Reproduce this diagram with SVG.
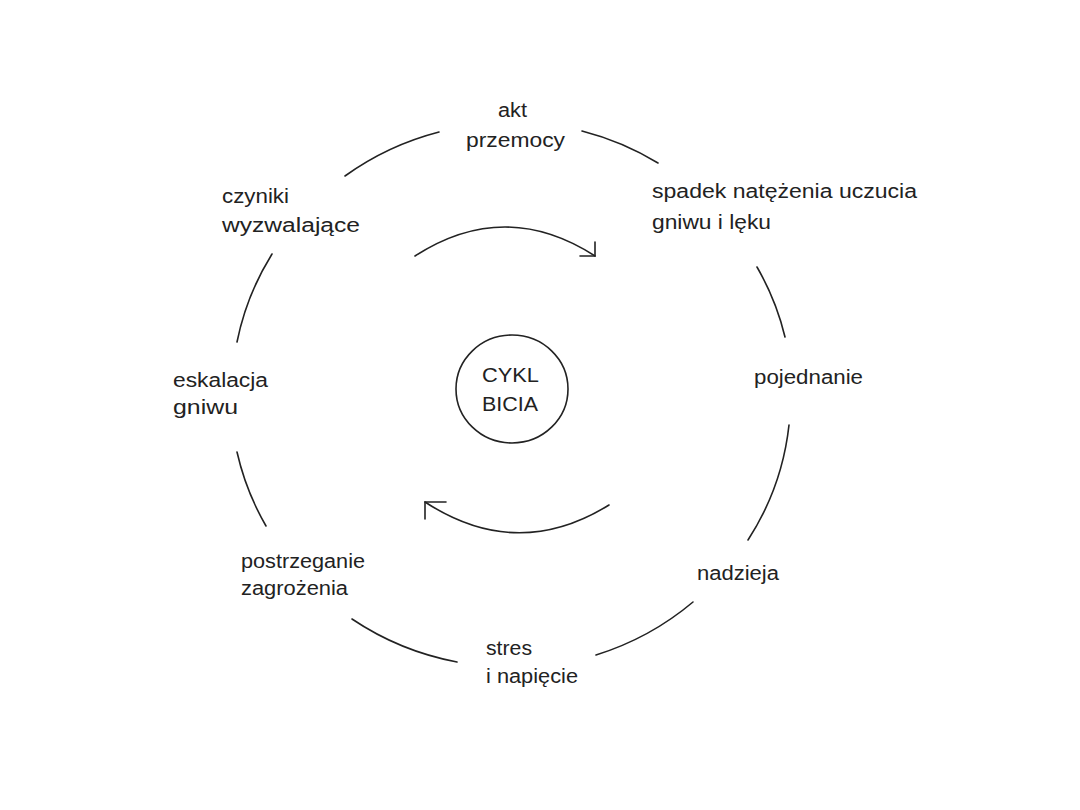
<svg xmlns="http://www.w3.org/2000/svg" width="1080" height="810" viewBox="0 0 1080 810">
<style>
  .arc { fill: none; stroke: #222; stroke-width: 1.6; stroke-linecap: round; }
  .lbl { font-family: "Liberation Sans", Arial, sans-serif; font-size: 20px; fill: #222; }
</style>
<rect width="1080" height="810" fill="#ffffff"/>
<g id="connectors">
  <path class="arc" d="M345 176 A278 270 0 0 1 439 132"/>
  <path class="arc" d="M582 131 A278 270 0 0 1 658 163"/>
  <path class="arc" d="M757 267 A278 270 0 0 1 785 337"/>
  <path class="arc" d="M789 425 A278 270 0 0 1 748 540"/>
  <path class="arc" d="M693 602 A278 270 0 0 1 596 655"/>
  <path class="arc" d="M457 662 A278 270 0 0 1 352 619"/>
  <path class="arc" d="M266 526 A278 270 0 0 1 237 452"/>
  <path class="arc" d="M237 342 A278 270 0 0 1 272 254"/>
  <path class="arc" d="M415 256 Q505 198 595 256"/>
  <path class="arc" d="M580 256 L595 256 L595 242"/>
  <path class="arc" d="M609 505 Q517 562 425 502"/>
  <path class="arc" d="M446 502 L425 502 L425 519"/>
</g>
<g id="center">
  <ellipse cx="512" cy="389" rx="56" ry="54" class="arc"/>
  <text class="lbl" x="482" y="382" textLength="57" lengthAdjust="spacingAndGlyphs">CYKL</text>
  <text class="lbl" x="482" y="411" textLength="56" lengthAdjust="spacingAndGlyphs">BICIA</text>
</g>
<g id="akt-przemocy">
  <text class="lbl" x="498" y="117" textLength="29" lengthAdjust="spacingAndGlyphs">akt</text>
  <text class="lbl" x="466" y="147" textLength="99" lengthAdjust="spacingAndGlyphs">przemocy</text>
</g>
<g id="spadek">
  <text class="lbl" x="652" y="198" textLength="265" lengthAdjust="spacingAndGlyphs">spadek natężenia uczucia</text>
  <text class="lbl" x="652" y="229" textLength="119" lengthAdjust="spacingAndGlyphs">gniwu i lęku</text>
</g>
<g id="pojednanie">
  <text class="lbl" x="754" y="384" textLength="109" lengthAdjust="spacingAndGlyphs">pojednanie</text>
</g>
<g id="nadzieja">
  <text class="lbl" x="697" y="580" textLength="82" lengthAdjust="spacingAndGlyphs">nadzieja</text>
</g>
<g id="stres">
  <text class="lbl" x="486" y="655" textLength="46" lengthAdjust="spacingAndGlyphs">stres</text>
  <text class="lbl" x="486" y="683" textLength="92" lengthAdjust="spacingAndGlyphs">i napięcie</text>
</g>
<g id="postrzeganie">
  <text class="lbl" x="241" y="568" textLength="124" lengthAdjust="spacingAndGlyphs">postrzeganie</text>
  <text class="lbl" x="241" y="595" textLength="107" lengthAdjust="spacingAndGlyphs">zagrożenia</text>
</g>
<g id="eskalacja">
  <text class="lbl" x="173" y="387" textLength="95" lengthAdjust="spacingAndGlyphs">eskalacja</text>
  <text class="lbl" x="173" y="414" textLength="65" lengthAdjust="spacingAndGlyphs">gniwu</text>
</g>
<g id="czyniki">
  <text class="lbl" x="222" y="203" textLength="67" lengthAdjust="spacingAndGlyphs">czyniki</text>
  <text class="lbl" x="222" y="232" textLength="138" lengthAdjust="spacingAndGlyphs">wyzwalające</text>
</g>
</svg>
